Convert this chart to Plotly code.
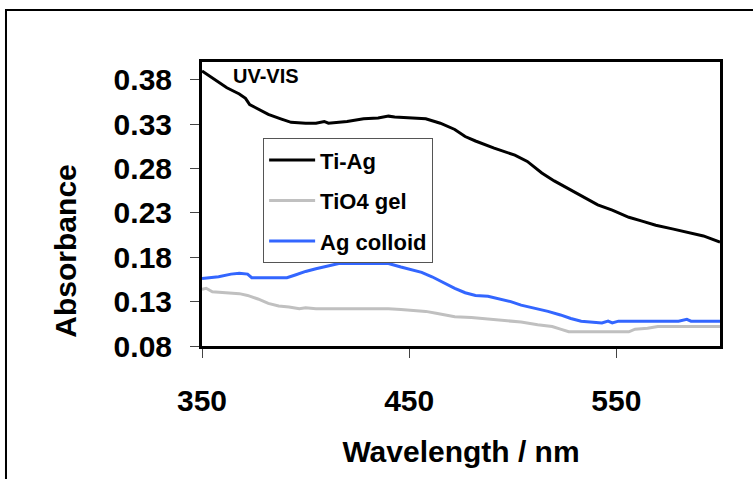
import plotly.graph_objects as go

# ---- data ----
ti_ag_nm = [350, 355, 362, 368, 371, 373, 378, 382, 388, 393, 400, 405, 409, 411, 420,
            428, 435, 440, 443, 450, 458, 465, 472, 477, 482, 491, 501, 507, 514, 520,
            524, 533, 541, 548, 556, 562, 569, 577, 585, 592, 600]
ti_ag_abs = [0.390, 0.382, 0.371, 0.364, 0.359, 0.352, 0.346, 0.341, 0.336, 0.332, 0.331,
             0.331, 0.333, 0.331, 0.333, 0.336, 0.337, 0.339, 0.338, 0.337, 0.336, 0.331,
             0.324, 0.316, 0.311, 0.303, 0.295, 0.288, 0.275, 0.266, 0.261, 0.249, 0.239,
             0.233, 0.225, 0.221, 0.216, 0.212, 0.208, 0.204, 0.197]

gel_nm = [350, 352, 355, 362, 368, 372, 377, 382, 387, 392, 397, 400, 405, 420, 440, 446,
          452, 458, 463, 468, 472, 480, 490, 496, 504, 512, 519, 523, 527, 540, 556, 559,
          565, 570, 585, 600]
gel_abs = [0.144, 0.145, 0.141, 0.140, 0.139, 0.137, 0.133, 0.128, 0.125, 0.124, 0.122,
           0.123, 0.122, 0.122, 0.122, 0.121, 0.120, 0.119, 0.117, 0.115, 0.113, 0.112,
           0.110, 0.109, 0.107, 0.104, 0.102, 0.099, 0.096, 0.096, 0.096, 0.099, 0.100,
           0.102, 0.102, 0.102]

ag_nm = [350, 353, 358, 364, 368, 372, 374, 380, 391, 395, 400, 405, 410, 416, 425, 440,
         446, 451, 456, 461, 466, 472, 477, 482, 488, 493, 499, 504, 510, 517, 523, 528,
         533, 538, 543, 546, 548, 551, 560, 580, 584, 586, 600]
ag_abs = [0.156, 0.157, 0.158, 0.161, 0.162, 0.161, 0.157, 0.157, 0.157, 0.160, 0.164,
          0.167, 0.170, 0.173, 0.173, 0.173, 0.169, 0.166, 0.163, 0.158, 0.152, 0.145,
          0.140, 0.137, 0.136, 0.133, 0.130, 0.126, 0.123, 0.119, 0.115, 0.111, 0.108,
          0.107, 0.106, 0.108, 0.106, 0.108, 0.108, 0.108, 0.110, 0.108, 0.108]

x_ticks = [350, 450, 550]
y_ticks = [0.08, 0.13, 0.18, 0.23, 0.28, 0.33, 0.38]
y_tick_labels = ["0.08", "0.13", "0.18", "0.23", "0.28", "0.33", "0.38"]

FONT = "Liberation Sans, Arial, sans-serif"

fig = go.Figure()
fig.add_trace(go.Scatter(x=ti_ag_nm, y=ti_ag_abs, mode="lines", name="Ti-Ag",
                         legendgroup="a", line=dict(color="#000000", width=3)))
fig.add_trace(go.Scatter(x=gel_nm, y=gel_abs, mode="lines", name="TiO4 gel",
                         legendgroup="b", line=dict(color="#c0c0c0", width=3)))
fig.add_trace(go.Scatter(x=ag_nm, y=ag_abs, mode="lines", name="Ag colloid",
                         legendgroup="c", line=dict(color="#3366ff", width=3)))

fig.update_layout(
    width=753, height=479, autosize=False,
    margin=dict(l=202, r=33, t=62, b=133),
    paper_bgcolor="white", plot_bgcolor="white",
    font=dict(family=FONT, color="black"),
    showlegend=True,
    legend=dict(
        x=0.118, y=0.732, xanchor="left", yanchor="top",
        bgcolor="white", bordercolor="#555555", borderwidth=1,
        font=dict(family=FONT, size=22, weight="bold", color="black"),
        tracegroupgap=9, itemwidth=46,
    ),
    xaxis=dict(
        range=[350, 600], tickvals=x_ticks, ticks="outside", ticklen=9,
        tickwidth=1, tickcolor="#444444", automargin=False,
        showline=True, linecolor="black", linewidth=3, mirror=True,
        showgrid=False, zeroline=False,
        tickfont=dict(family=FONT, size=30, weight="bold"),
        ticklabelstandoff=17,
        title=dict(text="Wavelength / nm", standoff=25,
                   font=dict(family=FONT, size=30, weight="bold")),
    ),
    yaxis=dict(
        range=[0.08, 0.40], tickvals=y_ticks, ticktext=y_tick_labels,
        ticks="outside", ticklen=9, tickwidth=1, tickcolor="#444444", automargin=False,
        showline=True, linecolor="black", linewidth=3, mirror=True,
        showgrid=False, zeroline=False,
        tickfont=dict(family=FONT, size=30, weight="bold"),
        ticklabelstandoff=12,
    ),
    annotations=[
        dict(text="Absorbance", textangle=-90, xref="paper", yref="paper",
             x=-0.263, y=0.335, xanchor="center", yanchor="middle", showarrow=False,
             font=dict(family=FONT, size=30, weight="bold")),
        dict(text="UV-VIS", xref="paper", yref="paper", x=0.124, y=0.951,
             xanchor="center", yanchor="middle", showarrow=False,
             font=dict(family=FONT, size=20, weight="bold")),
    ],
    shapes=[
        dict(type="rect", xref="paper", yref="paper",
             x0=-0.3784, x1=1.1, y0=-0.6, y1=1.183,
             line=dict(color="black", width=2), fillcolor="rgba(0,0,0,0)", layer="below"),
    ],
)

fig.write_html("out.html", config={"displayModeBar": False},
               post_script="document.body.style.margin='0';")
